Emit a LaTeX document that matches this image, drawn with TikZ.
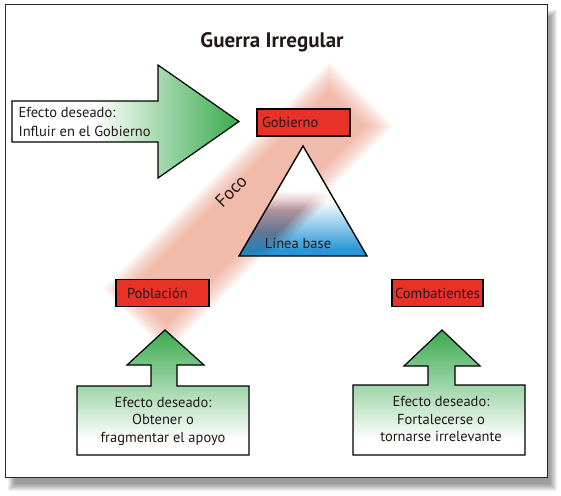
\documentclass[tikz,border=0pt]{standalone}
\usepackage{fontspec}
\setmainfont{PT Sans}
\definecolor{gdark}{RGB}{58,170,78}
\definecolor{boxred}{RGB}{232,50,40}
\definecolor{bandc}{RGB}{236,140,112}
\definecolor{txt}{RGB}{35,25,25}
\pgfdeclarefunctionalshading{tritwod}{\pgfpoint{0bp}{0bp}}{\pgfpoint{100bp}{100bp}}{}{
  256 exch 25 sub 2.2 mul sub
  exch 25 sub 2.56 mul 239 add
  1 index add
  519 exch sub 20 div 0.5 add
  dup 0 lt {pop 0} if dup 1 gt {pop 1} if
  exch
  dup 200 sub 50 div dup 0 lt {pop 0} if dup 1 gt {pop 1} if
  exch
  dup 210 lt {190 sub 20 div} {dup 232 gt {232 sub 24 div 0.8 mul 1 exch sub} {pop 1} ifelse} ifelse
  dup 0 lt {pop 0} if dup 1 gt {pop 1} if
  3 -1 roll mul
  1 index 0.843 mul 1 exch sub
  1 index 0.17 mul 1 exch sub mul
  3 1 roll
  1 index 0.412 mul 1 exch sub
  1 index 0.375 mul 1 exch sub mul
  3 1 roll
  exch 0.157 mul 1 exch sub
  exch 0.37 mul 1 exch sub mul
}
\pgfdeclarehorizontalshading{arrowh}{100bp}{color(0bp)=(white); color(43bp)=(white); color(75bp)=(gdark); color(100bp)=(gdark)}
\pgfdeclareverticalshading{arrowv}{100bp}{color(0bp)=(white); color(31bp)=(white); color(75bp)=(gdark); color(100bp)=(gdark)}
\begin{document}
\begin{tikzpicture}[x=1pt,y=-1pt,
  txtfont/.style={font=\fontsize{14.5}{19}\selectfont, text=txt},
  redbox/.style={draw=black, line width=1.2, fill=boxred, txtfont, minimum height=27pt, inner ysep=0pt},
  arrowshape/.style={draw=black, line width=1.2, line join=miter},
]
\useasboundingbox (0,0) rectangle (561,495);
% shadow
\foreach \k in {0,...,7}
  \fill[black, opacity=0.06] ({8+\k},{10+\k}) rectangle ({557-\k},{491-\k});
% frame
\draw[line width=1, black!85, fill=white] (5,5) rectangle (547,477);
% title
\node[font=\bfseries\fontsize{21}{24}\selectfont, text=txt] (title) at (272,42) {Guerra Irregular};
% focus band
\begin{scope}[shift={(248,207.5)}, rotate=45]
  \foreach \k in {0,...,9}
    \fill[bandc, opacity=0.08] ({-160+2.2*\k},{-45+2.2*\k}) rectangle ({160-2.2*\k},{45-2.2*\k});
\end{scope}
\node[rotate=45, font=\fontsize{18}{20}\selectfont, text=txt] (foco) at (231,191) {Foco};
% left arrow
\path[arrowshape, shading=arrowh] (12,101) -- (158,101) -- (158,65) -- (239,121.5) -- (158,178) -- (158,142) -- (12,142) -- cycle;
\node[txtfont, anchor=west, align=left] (lefttext) at (15,122) {Efecto deseado:\\Influir en el Gobierno};
% triangle
\begin{scope}
  \clip (303,146) -- (239,256) -- (367,256) -- cycle;
  \fill[shading=tritwod] (239,146) rectangle (367,256);
\end{scope}
\draw[line width=1.4, line join=miter] (303,146) -- (239,256) -- (367,256) -- cycle;
\node[txtfont] (linea) at (298,243) {Línea base};
% boxes
\node[redbox, text width=83pt, inner xsep=5pt, align=left] (gob) at (303.5,122.5) {Gobierno};
\node[redbox, text width=71pt, inner xsep=11pt, align=left] (pob) at (162.5,293) {Población};
\node[redbox, text width=89pt, inner xsep=1pt, align=center] (comb) at (437.5,293) {Combatientes};
% up arrows
\path[arrowshape, shading=arrowv] (165,330) -- (204,365) -- (177,365) -- (177,386) -- (249,386) -- (249,455) -- (77,455) -- (77,386) -- (151,386) -- (151,365) -- (127,365) -- cycle;
\node[txtfont, align=center, font=\fontsize{14.5}{17.5}\selectfont] (poptext) at (163,421) {Efecto deseado:\\Obtener o\\fragmentar el apoyo};
\path[arrowshape, shading=arrowv] (442,330) -- (480,366) -- (455,366) -- (455,385) -- (525,385) -- (525,455) -- (353,455) -- (353,385) -- (428,385) -- (428,366) -- (404,366) -- cycle;
\node[txtfont, align=center, font=\fontsize{14.5}{17.5}\selectfont] (combtext) at (441,419) {Efecto deseado:\\Fortalecerse o\\tornarse irrelevante};
\end{tikzpicture}
\end{document}
